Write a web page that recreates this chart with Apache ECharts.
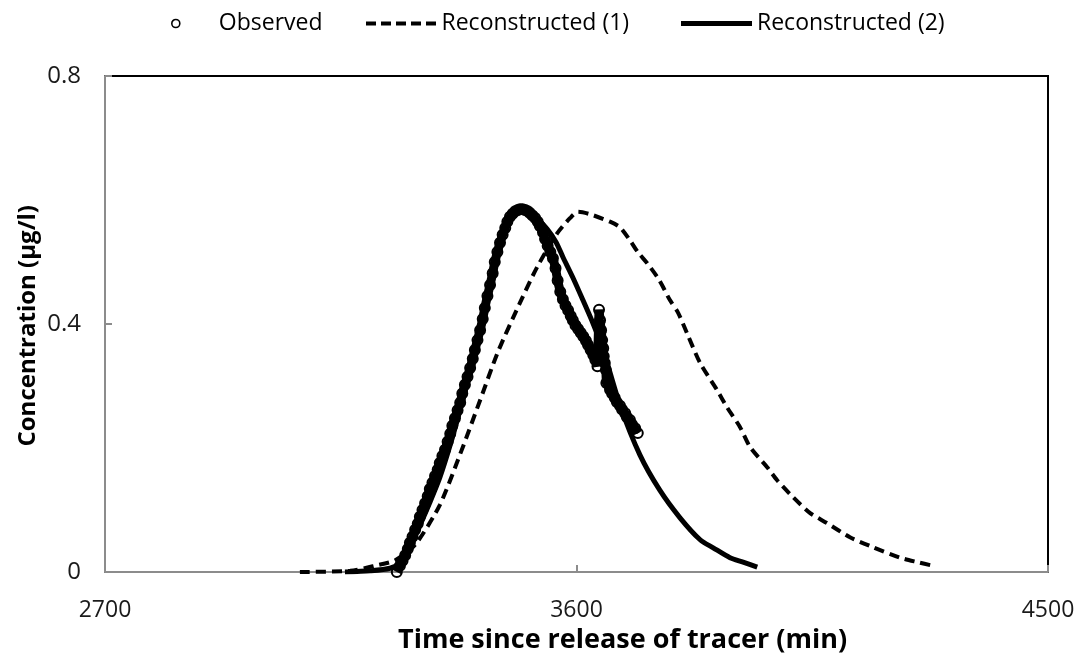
<!DOCTYPE html>
<html>
<head>
<meta charset="utf-8">
<script src="https://cdn.jsdelivr.net/npm/echarts@6/dist/echarts.min.js"></script>
<style>
  html, body { margin: 0; padding: 0; background: #fff; }
  #chart { width: 1078px; height: 657px; }
</style>
</head>
<body>
<div id="chart"></div>
<script>
// Tracer breakthrough: observed concentrations and two reconstructions.
var xTicks = [2700, 3600, 4500];
var yTicks = [0, 0.4, 0.8];

// Observed samples (time in min, concentration in µg/l)
var obsTime = [
  3257, 3263, 3268, 3273, 3278, 3282, 3287, 3292, 3297, 3301,
  3306, 3311, 3316, 3320, 3325, 3330, 3335, 3339, 3344, 3349,
  3354, 3359, 3363, 3368, 3373, 3378, 3382, 3387, 3392, 3397,
  3402, 3406, 3411, 3416, 3421, 3425, 3430, 3435, 3440, 3444,
  3449, 3454, 3459, 3464, 3468, 3473, 3478, 3483, 3488, 3492,
  3497, 3502, 3507, 3511, 3516, 3521, 3526, 3530, 3536, 3540,
  3545, 3550, 3555, 3560, 3564, 3569, 3574, 3579, 3584, 3589,
  3593, 3598, 3603, 3608, 3613, 3618, 3622, 3627, 3632, 3636,
  3640, 3643, 3645, 3647, 3649, 3651, 3652, 3654, 3656, 3657,
  3664, 3668, 3673, 3677, 3683, 3687, 3693, 3696, 3702, 3706,
  3712, 3717
];
var obsConc = [
  0.000, 0.010, 0.018, 0.027, 0.037, 0.047, 0.057, 0.068, 0.078, 0.089,
  0.100, 0.111, 0.122, 0.134, 0.144, 0.155, 0.165, 0.176, 0.187, 0.197,
  0.210, 0.223, 0.236, 0.248, 0.261, 0.273, 0.288, 0.302, 0.315, 0.329,
  0.344, 0.358, 0.374, 0.390, 0.408, 0.426, 0.445, 0.463, 0.482, 0.500,
  0.516, 0.531, 0.544, 0.555, 0.565, 0.573, 0.578, 0.582, 0.584, 0.585,
  0.585, 0.584, 0.582, 0.579, 0.575, 0.571, 0.565, 0.558, 0.548, 0.537,
  0.526, 0.516, 0.506, 0.490, 0.470, 0.452, 0.440, 0.430, 0.422, 0.413,
  0.406, 0.398, 0.392, 0.386, 0.380, 0.373, 0.366, 0.358, 0.350, 0.342,
  0.332, 0.423, 0.406, 0.390, 0.374, 0.361, 0.348, 0.337, 0.326, 0.305,
  0.294, 0.288, 0.281, 0.274, 0.268, 0.262, 0.256, 0.250, 0.245, 0.238,
  0.232, 0.224
];

// Reconstruction (1)
var rec1Time = [
  3072, 3168, 3215, 3254, 3292, 3339, 3381, 3416, 3450, 3492,
  3525, 3563, 3588, 3603, 3626, 3664, 3683, 3702, 3717, 3735,
  3754, 3765, 3778, 3794, 3811, 3836, 3868, 3887, 3912, 3931,
  3964, 3983, 4013, 4046, 4078, 4122, 4166, 4218, 4250, 4281
];
var rec1Conc = [
  0.000, 0.002, 0.010, 0.019, 0.044, 0.108, 0.197, 0.277, 0.355, 0.434,
  0.492, 0.546, 0.571, 0.581, 0.577, 0.565, 0.556, 0.535, 0.516, 0.498,
  0.476, 0.460, 0.439, 0.418, 0.385, 0.337, 0.294, 0.266, 0.234, 0.202,
  0.169, 0.148, 0.121, 0.095, 0.079, 0.056, 0.040, 0.023, 0.016, 0.010
];

// Reconstruction (2)
var rec2Time = [
  3158, 3206, 3244, 3263, 3282, 3301, 3320, 3339, 3359, 3378,
  3397, 3416, 3435, 3454, 3467, 3483, 3496, 3511, 3525, 3544,
  3561, 3574, 3593, 3612, 3631, 3651, 3683, 3721, 3759, 3798,
  3836, 3861, 3893, 3918, 3945
];
var rec2Conc = [
  0.000, 0.002, 0.006, 0.015, 0.040, 0.075, 0.112, 0.152, 0.205, 0.262,
  0.322, 0.388, 0.460, 0.527, 0.560, 0.579, 0.584, 0.580, 0.570, 0.553,
  0.532, 0.508, 0.475, 0.439, 0.402, 0.358, 0.269, 0.189, 0.132, 0.087,
  0.052, 0.039, 0.023, 0.016, 0.008
];

function pairs(xs, ys) {
  return xs.map(function (x, i) { return [x, ys[i]]; });
}

var FONT = '"Open Sans", "Noto Sans", sans-serif';
var LEGEND_TEXT = { fontFamily: FONT, fontSize: 23, color: '#000' };
// legend swatches: a dashed bar and a solid bar
var DASH_ICON = 'path://M0,0h10v4h-10z M15,0h10v4h-10z M30,0h10v4h-10z M45,0h10v4h-10z M60,0h10v4h-10z';

var chart = echarts.init(document.getElementById('chart'), null, { renderer: 'canvas' });

chart.setOption({
  animation: false,
  backgroundColor: '#ffffff',
  grid: {
    left: 105, right: 30, top: 76, bottom: 85,
    show: true, borderColor: '#000000', borderWidth: 2, backgroundColor: 'transparent'
  },
  legend: [
    {
      left: 166, top: 7, itemWidth: 76, itemHeight: 8,
      textStyle: LEGEND_TEXT,
      data: [{
        name: 'Observed', icon: 'circle',
        itemStyle: { color: '#ffffff', borderColor: '#000000', borderWidth: 1.6 }
      }]
    },
    {
      left: 361, top: 7, itemWidth: 71, itemHeight: 4,
      textStyle: LEGEND_TEXT,
      data: [{ name: 'Reconstructed (1)', icon: DASH_ICON, itemStyle: { color: '#000' } }]
    },
    {
      left: 676, top: 7, itemWidth: 71, itemHeight: 5,
      textStyle: LEGEND_TEXT,
      data: [{ name: 'Reconstructed (2)', icon: 'rect', itemStyle: { color: '#000' } }]
    }
  ],
  xAxis: {
    type: 'value',
    min: xTicks[0], max: xTicks[xTicks.length - 1], interval: xTicks[1] - xTicks[0],
    axisLine: { lineStyle: { color: '#8c8c8c', width: 2 } },
    axisTick: { show: true, inside: true, length: 7, lineStyle: { color: '#8c8c8c', width: 2 } },
    splitLine: { show: false },
    axisLabel: {
      fontFamily: FONT, fontSize: 23, color: '#1a1a1a', margin: 27,
      formatter: function (v) { return String(v); }
    }
  },
  yAxis: {
    type: 'value',
    min: yTicks[0], max: yTicks[yTicks.length - 1], interval: yTicks[1] - yTicks[0],
    axisLine: { show: true, lineStyle: { color: '#8c8c8c', width: 2 } },
    axisTick: { show: true, inside: true, length: 7, lineStyle: { color: '#8c8c8c', width: 2 } },
    splitLine: { show: false },
    axisLabel: { fontFamily: FONT, fontSize: 24, color: '#1a1a1a', margin: 24 }
  },
  graphic: [
    {
      type: 'text', left: 398, top: 627,
      style: {
        text: 'Time since release of tracer (min)',
        font: 'bold 27px ' + FONT, fill: '#000'
      }
    },
    {
      type: 'text', left: 16, top: 205, rotation: Math.PI / 2,
      style: {
        text: 'Concentration (µg/l)',
        font: 'bold 24px ' + FONT, fill: '#000'
      }
    }
  ],
  series: [
    {
      name: 'Observed', type: 'line',
      data: pairs(obsTime, obsConc),
      symbol: 'circle', symbolSize: 10, showSymbol: true,
      itemStyle: { color: 'rgba(255,255,255,0)', borderColor: '#000000', borderWidth: 2 },
      lineStyle: { color: '#000000', width: 9 },
      z: 2
    },
    {
      name: 'Reconstructed (1)', type: 'line',
      data: pairs(rec1Time, rec1Conc),
      symbol: 'none', smooth: 0.25,
      itemStyle: { color: '#000000' },
      lineStyle: { color: '#000000', width: 4, type: [10, 6] },
      z: 3
    },
    {
      name: 'Reconstructed (2)', type: 'line',
      data: pairs(rec2Time, rec2Conc),
      symbol: 'none', smooth: 0.25,
      itemStyle: { color: '#000000' },
      lineStyle: { color: '#000000', width: 5 },
      z: 4
    }
  ]
});
</script>
</body>
</html>
